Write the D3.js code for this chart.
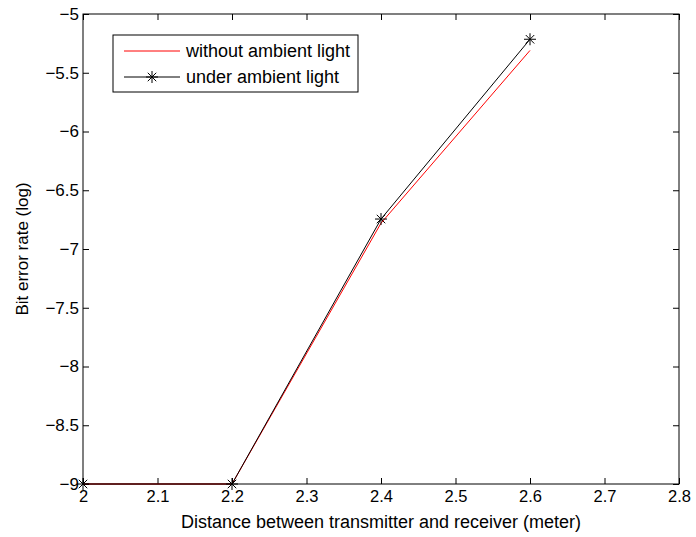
<!DOCTYPE html>
<html>
<head>
<meta charset="utf-8">
<script src="https://cdn.jsdelivr.net/npm/d3@7"></script>
<style>
  body { margin: 0; background: #fff; }
  svg text { font-family: "Liberation Sans", Arial, Helvetica, sans-serif; }
</style>
</head>
<body>
<div id="chart"></div>
<script>
// distances (meter) and log10 bit error rates
const distance = [2, 2.2, 2.4, 2.6];
const berNoAmbient = [-9, -9, -6.78, -5.31];
const berAmbient = [-9, -9, -6.745, -5.215];
const xTicks = [2, 2.1, 2.2, 2.3, 2.4, 2.5, 2.6, 2.7, 2.8];
const yTicks = [-9, -8.5, -8, -7.5, -7, -6.5, -6, -5.5, -5];
const seriesNames = ["without ambient light", "under ambient light"];

const W = 696, H = 537;
const margin = { top: 14, right: 17, bottom: 53, left: 83 };
const width = W - margin.left - margin.right;
const height = H - margin.top - margin.bottom;

const svg = d3.select("#chart").append("svg")
  .attr("width", W)
  .attr("height", H);

const g = svg.append("g")
  .attr("transform", `translate(${margin.left},${margin.top})`);

const x = d3.scaleLinear().domain([2, 2.8]).range([0, width]);
const y = d3.scaleLinear().domain([-9, -5]).range([height, 0]);

const fmt = v => String(v).replace("-", "\u2212");

// axes with inward ticks, mirrored on top/right
const tickLen = 6;
const xAxisB = g.append("g")
  .attr("transform", `translate(0,${height})`)
  .call(d3.axisBottom(x).tickValues(xTicks).tickSize(-tickLen).tickPadding(6).tickFormat(fmt));
const xAxisT = g.append("g")
  .call(d3.axisTop(x).tickValues(xTicks).tickSize(-tickLen).tickFormat(""));
const yAxisL = g.append("g")
  .call(d3.axisLeft(y).tickValues(yTicks).tickSize(-tickLen).tickPadding(4).tickFormat(fmt));
const yAxisR = g.append("g")
  .attr("transform", `translate(${width},0)`)
  .call(d3.axisRight(y).tickValues(yTicks).tickSize(-tickLen).tickFormat(""));

[xAxisB, xAxisT, yAxisL, yAxisR].forEach(a => {
  a.select(".domain").remove();
  a.selectAll("line").attr("stroke", "#000").attr("stroke-width", 1);
  a.selectAll("text").attr("fill", "#000").style("font-size", "16.5px");
});
// wider minus glyph on the y tick labels
yAxisL.selectAll("text").style("font-size", "17px");

// plot frame
g.append("rect")
  .attr("width", width)
  .attr("height", height)
  .attr("fill", "none")
  .attr("stroke", "#000")
  .attr("stroke-width", 1);

const line = d3.line()
  .x((d, i) => x(distance[i]))
  .y(d => y(d));

g.append("path")
  .datum(berNoAmbient)
  .attr("fill", "none")
  .attr("stroke", "#ff0000")
  .attr("stroke-width", 1)
  .attr("d", line);

g.append("path")
  .datum(berAmbient)
  .attr("fill", "none")
  .attr("stroke", "#000")
  .attr("stroke-width", 1)
  .attr("d", line);

// asterisk marker
function star(sel, cx, cy, r) {
  const d = r * Math.SQRT1_2;
  sel.append("path")
    .attr("d", `M${cx - r},${cy}L${cx + r},${cy}M${cx},${cy - r}L${cx},${cy + r}` +
      `M${cx - d},${cy - d}L${cx + d},${cy + d}M${cx - d},${cy + d}L${cx + d},${cy - d}`)
    .attr("stroke", "#000")
    .attr("stroke-width", 1)
    .attr("fill", "none");
}

berAmbient.forEach((v, i) => star(g, x(distance[i]), y(v), 6));

// legend
const lg = svg.append("g").attr("transform", "translate(113,35)");
lg.append("rect")
  .attr("width", 245)
  .attr("height", 57)
  .attr("fill", "#fff")
  .attr("stroke", "#000")
  .attr("stroke-width", 1);
const rows = [
  { name: seriesNames[0], color: "#ff0000", y: 16, marker: false },
  { name: seriesNames[1], color: "#000", y: 42, marker: true }
];
rows.forEach(r => {
  lg.append("line")
    .attr("x1", 11).attr("x2", 67)
    .attr("y1", r.y).attr("y2", r.y)
    .attr("stroke", r.color)
    .attr("stroke-width", 1);
  if (r.marker) star(lg, 39, r.y, 6);
  lg.append("text")
    .attr("x", 73)
    .attr("y", r.y + 6)
    .style("font-size", "18px")
    .text(r.name);
});

// axis titles
svg.append("text")
  .attr("x", margin.left + width / 2)
  .attr("y", 528)
  .attr("text-anchor", "middle")
  .style("font-size", "18px")
  .text("Distance between transmitter and receiver (meter)");

svg.append("text")
  .attr("transform", `translate(28,${margin.top + height / 2}) rotate(-90)`)
  .attr("text-anchor", "middle")
  .style("font-size", "17px")
  .text("Bit error rate (log)");
</script>
</body>
</html>
